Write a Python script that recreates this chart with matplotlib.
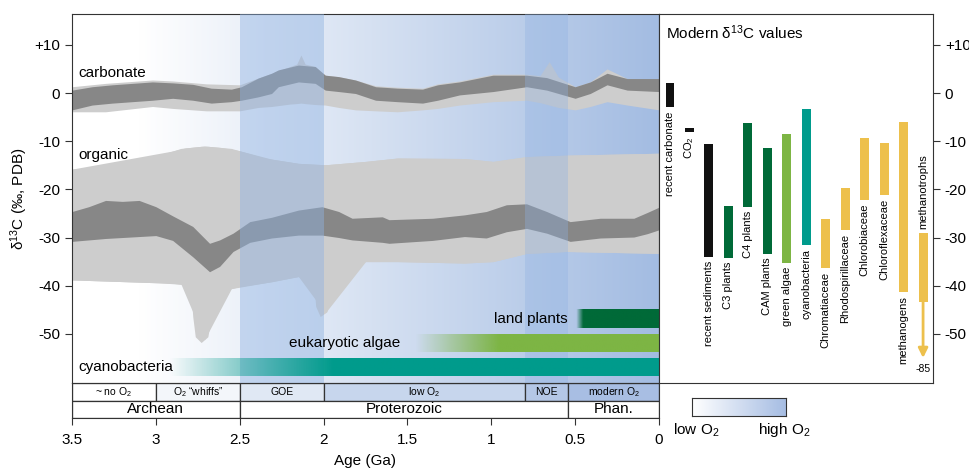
import numpy as np
import matplotlib
matplotlib.use('Agg')
import matplotlib.pyplot as plt
from matplotlib.colors import to_rgb
from matplotlib.patches import Rectangle

plt.rcParams['font.family'] = ['Liberation Sans', 'DejaVu Sans']
plt.rcParams['mathtext.fontset'] = 'custom'
plt.rcParams['mathtext.rm'] = 'Liberation Sans'
plt.rcParams['mathtext.it'] = 'Liberation Sans:italic'
plt.rcParams['axes.unicode_minus'] = False

# ---- carbonate record (Ga, permil) ----
carb_age = [3.5, 3.38, 3.26, 3.14, 3.02, 2.90, 2.78, 2.67, 2.55, 2.49, 2.39, 2.31, 2.27,
            2.15, 2.05, 1.99, 1.91, 1.81, 1.69, 1.56, 1.41, 1.32, 1.19, 0.99, 0.79, 0.67,
            0.50, 0.41, 0.31, 0.19, 0.0]
carb_dark_top = [0.6, 1.3, 1.7, 2.0, 2.3, 2.1, 1.8, 1.0, 0.8, 1.3, 3.1, 4.1, 4.8,
                 5.8, 5.5, 3.7, 3.4, 2.7, 1.3, 1.0, 0.8, 1.7, 2.3, 3.7, 3.7, 3.2,
                 1.3, 2.3, 4.1, 3.0, 3.0]
carb_dark_bot = [-3.5, -2.5, -2.1, -1.8, -1.5, -1.1, -1.5, -2.1, -1.8, -1.5, -0.8, -0.1, 1.3,
                 2.3, 2.0, 0.6, 0.3, -0.1, -1.5, -1.8, -2.1, -1.5, -0.4, 0.3, 1.3, 0.6,
                 -1.1, -0.1, 1.7, 0.6, 0.3]
carb_light_age = [3.5, 3.3, 3.02, 2.9, 2.7, 2.5, 2.39, 2.31, 2.2, 2.16, 2.135, 2.11, 2.05,
                  1.99, 1.91, 1.81, 1.69, 1.56, 1.41, 1.32, 1.19, 0.99, 0.79, 0.71, 0.655,
                  0.60, 0.50, 0.41, 0.31, 0.19, 0.0]
carb_light_top = [1.3, 2.0, 2.7, 2.5, 1.9, 1.7, 3.1, 4.1, 5.5, 6.0, 7.9, 6.0, 5.5,
                  3.7, 3.4, 2.7, 1.5, 1.2, 1.0, 1.9, 2.5, 3.9, 3.9, 3.6, 6.5,
                  3.3, 1.3, 2.3, 5.0, 3.0, 3.0]
carb_light_bot = [-3.9, -3.9, -2.8, -3.2, -3.7, -3.7, -3.0, -2.8, -2.3, -2.2, -2.1, -2.2, -2.4,
                  -2.5, -3.0, -3.5, -3.7, -3.9, -3.5, -3.2, -2.5, -1.8, -1.5, -2.0, -2.5,
                  -3.0, -3.5, -2.8, -1.8, -2.5, -3.5]

# ---- organic record ----
org_age = [3.5, 3.40, 3.30, 3.20, 3.10, 3.0, 2.90, 2.78, 2.68, 2.62, 2.54, 2.44, 2.31,
           2.15, 2.01, 1.91, 1.83, 1.65, 1.61, 1.35, 1.16, 1.03, 0.91, 0.79, 0.67, 0.53,
           0.35, 0.15, 0.07, 0.0]
org_dark_top = [-24.6, -23.6, -22.3, -22.5, -22.3, -23.6, -25.5, -27.7, -31.2, -30.5, -29.1, -26.7, -25.8,
                -24.3, -23.6, -24.6, -26.0, -25.7, -26.3, -26.0, -25.3, -24.6, -23.2, -23.0, -24.6, -26.7,
                -26.0, -26.0, -24.8, -23.7]
org_dark_bot = [-30.8, -30.5, -30.2, -30.0, -29.8, -29.6, -30.6, -34.0, -37.1, -36.0, -32.9, -31.0, -30.1,
                -29.5, -29.5, -30.0, -30.5, -31.0, -31.2, -30.6, -29.8, -30.1, -28.8, -28.1, -29.1, -30.8,
                -30.1, -29.9, -29.2, -28.4]
org_top_age = [3.5, 3.26, 3.1, 2.98, 2.85, 2.71, 2.55, 2.35, 2.15, 1.99, 1.75, 1.56, 1.16,
               0.99, 0.79, 0.55, 0.0]
org_light_top = [-15.8, -15.6, -14.6, -12.9, -11.5, -11.0, -11.5, -13.5, -14.6, -14.9, -14.2, -13.5, -13.6,
                 -14.2, -13.2, -12.9, -12.5]
org_bot_age = [3.5, 2.9, 2.825, 2.79, 2.78, 2.765, 2.73, 2.69, 2.67, 2.655, 2.615, 2.505, 2.31,
               2.15, 2.09, 2.055, 2.047, 2.02, 1.98, 1.96, 1.93, 1.87, 1.75, 1.56, 1.16, 0.99,
               0.79, 0.55, 0.0]
org_light_bot = [-38.8, -39.5, -39.8, -41.6, -46.4, -50.6, -51.8, -50.6, -46.4, -42.9, -41.2, -40.2, -39.2,
                 -38.1, -39.1, -40.9, -44.3, -46.4, -45.4, -41.6, -38.1, -36.0, -35.0, -35.0, -35.3, -35.0,
                 -33.3, -32.9, -33.3]

# ---- first appearance bars ----
life_labels = ['land plants', 'eukaryotic algae', 'cyanobacteria']
life_fade_start = [0.49, 1.45, 2.92]
life_fade_end = [0.45, 0.95, 1.95]
life_y = [(-48.8, -45.0), (-53.7, -50.0), (-58.7, -55.0)]
life_colors = ['#006a38', '#7db544', '#009b8c']

# ---- oxygen stages and eons ----
o2_bounds = [3.5, 3.0, 2.5, 2.0, 0.8, 0.541, 0.0]
o2_labels = ['~ no O$_2$', 'O$_2$ \u201cwhiffs\u201d', 'GOE', 'low O$_2$', 'NOE', 'modern O$_2$']
o2_colors = ['#ffffff', '#f3f6fa', '#e0e8f4', '#c7d6ed', '#b4c7e6', '#a8bee3']
eon_bounds = [3.5, 2.5, 0.541, 0.0]
eon_labels = ['Archean', 'Proterozoic', 'Phan.']
age_ticks = [3.5, 3, 2.5, 2, 1.5, 1, 0.5, 0]

# ---- modern d13C ranges ----
mod_labels = ['recent carbonate', 'CO$_2$', 'recent sediments', 'C3 plants', 'C4 plants', 'CAM plants',
              'green algae', 'cyanobacteria', 'Chromatiaceae', 'Rhodospirillaceae', 'Chlorobiaceae',
              'Chloroflexaceae', 'methanogens', 'methanotrophs']
mod_top = [2.0, -7.2, -10.5, -23.4, -6.3, -11.5, -8.5, -3.4, -26.2, -19.7, -9.3, -10.4, -6.1, -29.0]
mod_bot = [-3.0, -8.1, -34.0, -34.3, -23.6, -33.4, -35.3, -31.5, -36.4, -28.4, -22.2, -21.2, -41.3, -43.4]
mod_colors = ['#111111', '#111111', '#111111', '#006a38', '#006a38', '#006a38', '#7db544', '#009b8c',
              '#edc04c', '#edc04c', '#edc04c', '#edc04c', '#edc04c', '#edc04c']
methanotroph_min = -55.0

y_ticks = [10, 0, -10, -20, -30, -40, -50]
y_ticklabels = ['+10', '0', '-10', '-20', '-30', '-40', '-50']
ylim = (-60.2, 16.4)

LIGHT = '#cdcdcd'
DARK = '#878787'
EDGE = '#333333'


def hgrad(ax, x_old, x_young, y0, y1, color, fade_old, fade_young, z):
    ages = np.linspace(x_old, x_young, 500)
    a = np.clip((fade_old - ages) / (fade_old - fade_young), 0, 1)
    img = np.zeros((1, len(ages), 4))
    img[..., :3] = to_rgb(color)
    img[..., 3] = a
    ax.imshow(img, extent=(x_old, x_young, y0, y1), aspect='auto',
              interpolation='bilinear', zorder=z)


fig = plt.figure(figsize=(9.7, 4.7), dpi=100)
W, H = 970, 470
ax = fig.add_axes([72 / W, 1 - 383 / H, 587 / W, 369 / H])
axt = fig.add_axes([72 / W, 1 - 418 / H, 587 / W, 35 / H])
ax2 = fig.add_axes([659 / W, 1 - 383 / H, 274 / W, 369 / H])
axc = fig.add_axes([692 / W, 1 - 416 / H, 94 / W, 18 / H])

# background oxygen gradient
ages = np.linspace(3.5, 0, 600)
frac = np.clip((3.1 - ages) / 3.1, 0, 1)[:, None]
c_hi = np.array(to_rgb('#a3bce2'))
bg = (1 - frac) * np.ones(3) + frac * c_hi
ax.imshow(bg[None, :, :], extent=(3.5, 0, ylim[0], ylim[1]), aspect='auto',
          interpolation='bilinear', zorder=0)

# grey envelopes
ax.fill_between(carb_light_age, carb_light_bot, carb_light_top, color=LIGHT, lw=0, zorder=1)
ax.fill_between(org_top_age, np.interp(org_top_age, org_bot_age[::-1], org_light_bot[::-1]),
                org_light_top, color=LIGHT, lw=0, zorder=1)
ax.fill_between(org_bot_age, org_light_bot,
                np.interp(org_bot_age, org_top_age[::-1], org_light_top[::-1]),
                color=LIGHT, lw=0, zorder=1)
ax.fill_between(carb_age, carb_dark_bot, carb_dark_top, color=DARK, lw=0, zorder=2)
ax.fill_between(org_age, org_dark_bot, org_dark_top, color=DARK, lw=0, zorder=2)

# GOE / NOE overlays
ax.axvspan(2.5, 2.0, color='#8fb2e2', alpha=0.45, lw=0, zorder=3)
ax.axvspan(0.8, 0.541, color='#8fb2e2', alpha=0.35, lw=0, zorder=3)

# life bars
for lab, fs, fe, (y0, y1), col in zip(life_labels, life_fade_start, life_fade_end, life_y, life_colors):
    hgrad(ax, fs + 0.02, 0.0, y0, y1, col, fs, fe, 4)

ax.text(3.46, 4.1, 'carbonate', fontsize=11, va='center', ha='left', zorder=5)
ax.text(3.46, -12.9, 'organic', fontsize=11, va='center', ha='left', zorder=5)
ax.text(3.46, -56.85, 'cyanobacteria', fontsize=11, va='center', ha='left', zorder=5)
ax.text(1.545, -51.85, 'eukaryotic algae', fontsize=11, va='center', ha='right', zorder=5)
ax.text(0.545, -46.9, 'land plants', fontsize=11, va='center', ha='right', zorder=5)

ax.set_xlim(3.5, 0)
ax.set_ylim(*ylim)
ax.set_xticks([])
ax.set_yticks(y_ticks)
ax.set_yticklabels(y_ticklabels, fontsize=11)
ax.tick_params(axis='y', direction='out', length=5, color=EDGE)
ax.set_ylabel('\u03b4$^{13}$C (\u2030, PDB)', fontsize=11, labelpad=3)
for s in ax.spines.values():
    s.set_color(EDGE)

# stage table
axt.set_xlim(3.5, 0)
axt.set_ylim(0, 2)
for i in range(len(o2_labels)):
    a0, a1 = o2_bounds[i], o2_bounds[i + 1]
    axt.add_patch(Rectangle((a1, 1), a0 - a1, 1, fc=o2_colors[i], ec=EDGE, lw=0.9))
    axt.text((a0 + a1) / 2, 1.5, o2_labels[i], fontsize=7.5, ha='center', va='center')
for i in range(len(eon_labels)):
    a0, a1 = eon_bounds[i], eon_bounds[i + 1]
    axt.add_patch(Rectangle((a1, 0), a0 - a1, 1, fc='white', ec=EDGE, lw=0.9))
    axt.text((a0 + a1) / 2, 0.5, eon_labels[i], fontsize=11, ha='center', va='center')
axt.set_yticks([])
axt.set_xticks(age_ticks)
axt.set_xticklabels([f'{t:g}' for t in age_ticks], fontsize=11)
axt.tick_params(axis='x', direction='out', length=5, color=EDGE, pad=6)
axt.set_xlabel('Age (Ga)', fontsize=11, labelpad=5)
for s in axt.spines.values():
    s.set_color(EDGE)

# modern values panel
xpos = np.arange(len(mod_labels))
ax2.bar(xpos, np.array(mod_top) - np.array(mod_bot), bottom=mod_bot, width=0.46,
        color=mod_colors, zorder=2)
for i, lab in enumerate(mod_labels):
    if i == len(mod_labels) - 1:
        ax2.text(i, mod_top[i] + 0.8, lab, rotation=90, fontsize=8, ha='center', va='bottom')
    else:
        ax2.text(i, mod_bot[i] - 0.8, lab, rotation=90, fontsize=8, ha='center', va='top')
i = len(mod_labels) - 1
ax2.annotate('', xy=(i, methanotroph_min), xytext=(i, mod_bot[i] + 0.3),
             arrowprops=dict(arrowstyle='-|>', color=mod_colors[i], lw=2,
                             mutation_scale=14, shrinkA=0, shrinkB=0))
ax2.text(i, -57.2, '-85', fontsize=7.5, ha='center', va='center')
ax2.text(0.026, 0.948, 'Modern \u03b4$^{13}$C values', transform=ax2.transAxes,
         fontsize=11, ha='left', va='center')
ax2.set_xlim(-0.565, 13.51)
ax2.set_ylim(*ylim)
ax2.set_xticks([])
ax2.yaxis.tick_right()
ax2.set_yticks(y_ticks)
ax2.set_yticklabels(y_ticklabels, fontsize=11)
ax2.tick_params(axis='y', direction='out', length=5, color=EDGE)
for s in ax2.spines.values():
    s.set_color(EDGE)

# oxygen colour key
key = np.linspace(0, 1, 256)[:, None]
key_img = (1 - key) * np.ones(3) + key * np.array(to_rgb('#a6bde3'))
axc.imshow(key_img[None, :, :], extent=(0, 1, 0, 1), aspect='auto')
axc.set_xticks([])
axc.set_yticks([])
for s in axc.spines.values():
    s.set_color(EDGE)
fig.text(696 / W, 1 - 430 / H, 'low O$_2$', fontsize=11, ha='center', va='center')
fig.text(784 / W, 1 - 430 / H, 'high O$_2$', fontsize=11, ha='center', va='center')

fig.savefig('out.png', dpi=100)
